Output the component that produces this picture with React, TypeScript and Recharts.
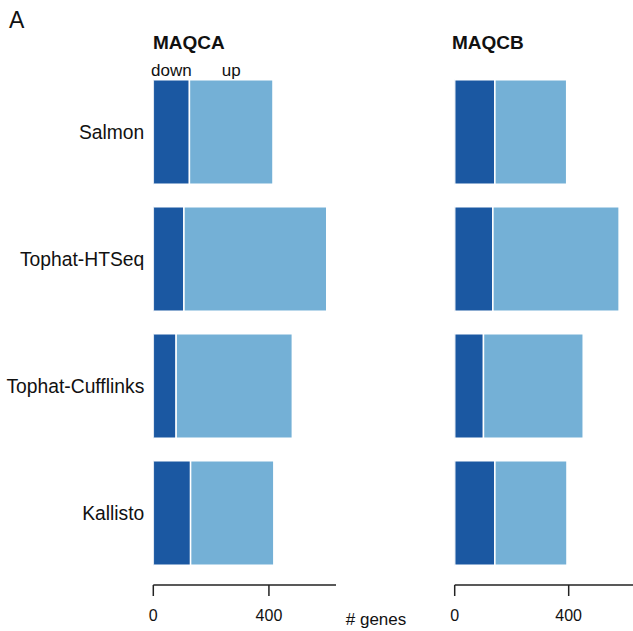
import { BarChart, Bar, XAxis, YAxis, LabelList } from "recharts";

const methods = ["Salmon", "Tophat-HTSeq", "Tophat-Cufflinks", "Kallisto"];
const downA = [125, 106, 79, 129];
const upA = [289, 494, 402, 288];
const downB = [141, 134, 101, 141];
const upB = [252, 443, 350, 253];
const xTicks = [0, 400];
const xMax = 632;

const FONT = "'Liberation Sans', Arial, Helvetica, sans-serif";
const DARK = "#1b58a2";
const LIGHT = "#74b0d6";

const dataA = methods.map((name, i) => ({ name, down: downA[i], up: upA[i] }));
const dataB = methods.map((name, i) => ({ name, down: downB[i], up: upB[i] }));

// "down" / "up" caption above the first bar only
const topCaption = (text: string) => (props: any) => {
  if (props.index !== 0) return null;
  const vb = props.viewBox ?? props;
  const x = Number(vb.x) + Number(vb.width) / 2;
  const y = Number(vb.y) - 4;
  return (
    <text x={x} y={y} textAnchor="middle" fontSize={17} fontFamily={FONT} fill="#111">
      {text}
    </text>
  );
};

function Panel({ data, showLabels, marginLeft, width }: { data: any[]; showLabels: boolean; marginLeft: number; width: number }) {
  return (
    <BarChart
      width={width}
      height={625}
      data={data}
      layout="vertical"
      margin={{ top: 68.75, right: 0, bottom: 0, left: marginLeft }}
    >
      <XAxis
        type="number"
        domain={[0, xMax]}
        ticks={xTicks}
        allowDataOverflow
        height={40}
        tickSize={11}
        tickMargin={14}
        axisLine={{ stroke: "#222", strokeWidth: 1.5 }}
        tickLine={{ stroke: "#222", strokeWidth: 1.5 }}
        tick={{ fill: "#111", fontSize: 16, fontFamily: FONT }}
      />
      <YAxis
        type="category"
        dataKey="name"
        hide={!showLabels}
        width={showLabels ? 153.3 : 0}
        padding={{ top: 0, bottom: 8.25 }}
        axisLine={false}
        tickLine={false}
        tickSize={0}
        tickMargin={9}
        tick={{ fill: "#111", fontSize: 19.3, fontFamily: FONT }}
      />
      <Bar dataKey="down" stackId="s" fill={DARK} stroke="#fff" strokeWidth={1.5} barSize={104.5} isAnimationActive={false}>
        {showLabels && <LabelList dataKey="down" content={topCaption("down")} />}
      </Bar>
      <Bar dataKey="up" stackId="s" fill={LIGHT} stroke="#fff" strokeWidth={1.5} barSize={104.5} isAnimationActive={false}>
        {showLabels && <LabelList dataKey="up" content={topCaption("up")} />}
      </Bar>
    </BarChart>
  );
}

export default function App() {
  return (
    <div style={{ position: "absolute", left: 0, top: 0, width: 633, height: 631, overflow: "hidden", background: "#fff" }}>
      <div style={{ position: "absolute", left: 0, top: 0 }}>
        <Panel data={dataA} showLabels={true} marginLeft={0} width={336} />
      </div>
      <div style={{ position: "absolute", left: 440, top: 0 }}>
        <Panel data={dataB} showLabels={false} marginLeft={14.7} width={194.8} />
      </div>
      <svg width={633} height={631} style={{ position: "absolute", left: 0, top: 0, pointerEvents: "none" }}>
        <text x={9} y={27.5} fontSize={23} fontFamily={FONT} fill="#111">A</text>
        <text x={153} y={49.3} fontSize={19} fontWeight="bold" fontFamily={FONT} fill="#111">MAQCA</text>
        <text x={452} y={49.3} fontSize={19} fontWeight="bold" fontFamily={FONT} fill="#111">MAQCB</text>
        <text x={376} y={625} textAnchor="middle" fontSize={17} fontFamily={FONT} fill="#111"># genes</text>
      </svg>
    </div>
  );
}
